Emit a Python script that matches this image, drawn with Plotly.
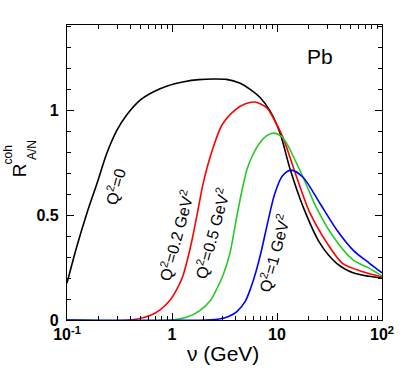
import numpy as np
import plotly.graph_objects as go

# curves: nu (GeV) and R_A/N^coh
nu_q0 = [0.1, 0.124, 0.155, 0.193, 0.24, 0.3, 0.37, 0.5, 0.66, 0.9, 1.3, 1.8, 2.5, 3.3,
         4.4, 5.5, 6.9, 8.6, 10.7, 13.3, 17.7, 25.6, 37, 53, 75, 100]
r_q0 = [0.176, 0.35, 0.51, 0.65, 0.795, 0.905, 0.976, 1.048, 1.086, 1.115, 1.135, 1.145,
        1.148, 1.146, 1.129, 1.10, 1.06, 0.995, 0.89, 0.72, 0.54, 0.366, 0.27, 0.225, 0.208, 0.20]

nu_q02 = [0.1, 0.4, 0.62, 0.77, 0.96, 1.12, 1.25, 1.39, 1.55, 1.73, 2.0, 2.46, 3.0, 3.98,
          5.0, 6.2, 8.0, 9.5, 11.4, 15.4, 20.6, 30, 42, 66, 100]
r_q02 = [0, 0.0, 0.022, 0.048, 0.095, 0.15, 0.2, 0.28, 0.38, 0.5, 0.66, 0.82, 0.93, 1.0,
         1.03, 1.038, 1.01, 0.95, 0.87, 0.68, 0.51, 0.366, 0.27, 0.23, 0.205]

nu_q05 = [0.1, 1.0, 1.39, 1.84, 2.3, 2.68, 3.1, 3.57, 4.13, 4.7, 5.2, 5.8, 6.9, 8.0, 9.3,
          11, 12.4, 17.7, 24, 34, 53, 76, 100]
r_q05 = [0, 0.0, 0.014, 0.045, 0.09, 0.15, 0.22, 0.32, 0.49, 0.63, 0.72, 0.78, 0.845, 0.878,
         0.89, 0.875, 0.84, 0.68, 0.53, 0.40, 0.286, 0.246, 0.21]

nu_q1 = [0.1, 2.1, 2.9, 3.5, 4.15, 5.0, 5.6, 6.3, 7.1, 8.2, 9.5, 11.2, 13.6, 17.7, 25.6, 37,
         53, 76, 100]
r_q1 = [0, 0.0, 0.006, 0.018, 0.04, 0.09, 0.15, 0.23, 0.33, 0.47, 0.6, 0.685, 0.714, 0.68,
        0.556, 0.43, 0.333, 0.27, 0.225]

# curve labels: text, nu, R
lbl_text = ["Q<sup>2</sup>=0", "Q<sup>2</sup>=0.2 GeV<sup>2</sup>",
            "Q<sup>2</sup>=0.5 GeV<sup>2</sup>", "Q<sup>2</sup>=1 GeV<sup>2</sup>"]
lbl_nu = [0.286, 1.09, 2.4, 9.35]
lbl_r = [0.638, 0.405, 0.414, 0.319]

xtick_vals = [0.1, 1, 10, 100]
xtick_text = ["10<sup>-1</sup>", "1", "10", "10<sup>2</sup>"]
ytick_vals = [0, 0.5, 1]
ytick_text = ["0", "0.5", "1"]

FONT = "Liberation Sans, Arial, Helvetica, sans-serif"

fig = go.Figure()
for nu, r, col in [(nu_q0, r_q0, "black"), (nu_q02, r_q02, "rgb(255,0,0)"),
                   (nu_q05, r_q05, "rgb(40,200,40)"), (nu_q1, r_q1, "rgb(0,0,255)")]:
    fig.add_trace(go.Scatter(x=nu, y=r, mode="lines",
                             line=dict(color=col, width=1.6, shape="spline", smoothing=0.8),
                             showlegend=False, hoverinfo="skip"))

for t, x, y in zip(lbl_text, lbl_nu, lbl_r):
    fig.add_annotation(x=np.log10(x), y=y, text=t, showarrow=False, textangle=-75,
                       xanchor="center", yanchor="middle",
                       font=dict(family=FONT, size=16, color="black"))

fig.add_annotation(x=np.log10(25.7), y=1.257, text="Pb", showarrow=False,
                   xanchor="center", yanchor="middle",
                   font=dict(family=FONT, size=21, color="black"))

# y title built from pieces so sup/sub stack like the original
ytitle = [("R", -0.152, 0.508, 19), ("coh", -0.186, 0.559, 12), ("A/N", -0.111, 0.576, 12)]
for t, x, y, s in ytitle:
    fig.add_annotation(xref="paper", yref="paper", x=x, y=y, text=t, showarrow=False,
                       textangle=-90, xanchor="center", yanchor="middle",
                       font=dict(family=FONT, size=s, color="black"))
fig.add_annotation(xref="paper", yref="paper", x=0.495, y=-0.112, text="ν (GeV)",
                   showarrow=False, xanchor="center", yanchor="middle",
                   font=dict(family=FONT, size=21, color="black"))

axis_common = dict(showline=True, linecolor="black", linewidth=1.3, mirror="allticks",
                   ticks="inside", ticklen=7, tickwidth=1, tickcolor="black", showgrid=False,
                   zeroline=False, tickfont=dict(family=FONT, size=16, color="black", weight="bold"))

fig.update_xaxes(type="log", range=[-1, 2], tickvals=xtick_vals, ticktext=xtick_text,
                 minor=dict(ticks="inside", ticklen=4, dtick="D1", tickcolor="black", showgrid=False),
                 **axis_common)
fig.update_yaxes(range=[0, 1.405], tickvals=ytick_vals, ticktext=ytick_text, ticklabelstandoff=4,
                 minor=dict(ticks="inside", ticklen=4, dtick=0.1, tickcolor="black", showgrid=False),
                 **axis_common)

fig.update_layout(width=409, height=376, margin=dict(l=67, r=27, t=25, b=56),
                  paper_bgcolor="white", plot_bgcolor="white", font=dict(family=FONT))

# drop the default 8px body margin so the figure fills the window
fig.write_html("out.html", config={"displayModeBar": False},
               post_script="document.body.style.margin='0';")
